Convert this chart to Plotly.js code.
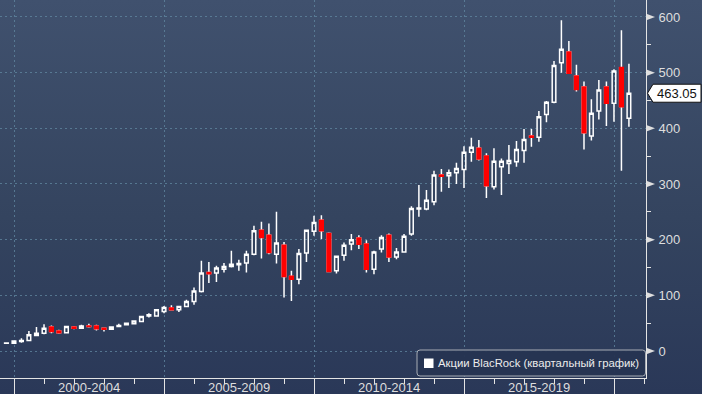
<!DOCTYPE html>
<html>
<head>
<meta charset="utf-8">
<script src="https://cdn.plot.ly/plotly-3.0.1.min.js"></script>
<style>
  html, body { margin: 0; padding: 0; }
  #chart { width: 702px; height: 394px; background: linear-gradient(to bottom, #40516e 0%, #34445f 55%, #2a3858 100%); }
</style>
</head>
<body>
<div id="chart"></div>
<script>
// ---- Data: BlackRock quarterly candles, 1999 Q3 .. 2020 Q2 ----
const firstYear = 1999;
const firstQuarter = 3;
const openVals  = [14,14,17,19,28,32,43,36,33,43,41,45,45,41,39,44,47,49,53,63,63,71,77,74,80,89,107,141,140,147,152,155,158,174,217,208,174,190,134,129,176,215,235,211,144,172,192,203,192,147,183,208,169,178,210,255,255,268,316,315,320,326,357,364,350,295,331,337,340,360,386,384,425,447,518,537,494,474,386,431,474,445,509,418];
const highVals  = [14.5,19,23,36,43,48,46,38,45,45,47,49,47,41,44,49,51,55,63,68,75,81,82,81,92,114,162,160,153,158,180,164,180,225,232,229,250,196,144,183,218,243,244,213,171,195,210,208,199,180,208,211,185,210,260,298,289,324,327,326,338,368,383,379,355,364,346,370,377,399,399,431,449,521,594,557,514,484,452,487,484,506,576,516];
const lowVals   = [14,13,15,18,27,30,32,31,32,39,40,42,37,35,38,43,46,48,52,60,62,68,73,70,79,83,105,122,124,141,150,144,141,172,166,174,157,96,90,120,160,207,201,142,139,162,181,183,141,138,177,160,165,177,207,241,253,262,286,293,300,293,340,342,275,290,280,318,331,338,367,376,411,445,500,498,466,362,378,416,404,412,324,403];
const closeVals = [14.4,18,19,29,32,41,35,33,44,41,45,44,40,39,43,46,50,54,62,65,74,78,74,80,89,108,140,139,149,152,156,157,174,216,204,177,194,134,129,175,217,231,216,143,170,190,200,192,147,178,204,169,178,206,256,257,271,316,314,320,328,357,366,345,297,341,341,342,362,380,384,421,447,513,542,499,470,392,427,469,445,503,439,463.05];

const yTickVals = [0,100,200,300,400,500,600];
const periodStarts = ['2000-01-01','2005-01-01','2010-01-01','2015-01-01','2020-01-01'];
const periodLabels = ['2000-2004','2005-2009','2010-2014','2015-2019'];
const periodMids   = ['2002-07-02','2007-07-02','2012-07-02','2017-07-02'];
const legendText = 'Акции BlacRock (квартальный график)';

// quarter-end dates for each candle
const quarterEnds = ['03-31','06-30','09-30','12-31'];
const dates = [];
for (let i = 0; i < openVals.length; i++) {
  const q = (firstQuarter - 1 + i);
  const yr = firstYear + Math.floor(q / 4);
  dates.push(yr + '-' + quarterEnds[q % 4]);
}

// decreasing subset (red bodies drawn over white wicks)
const dn = { x: [], o: [], c: [] };
for (let i = 0; i < openVals.length; i++) {
  if (closeVals[i] < openVals[i]) { dn.x.push(dates[i]); dn.o.push(openVals[i]); dn.c.push(closeVals[i]); }
}

const WHITE = '#ffffff';
const RED = '#ff0000';
const GRID = 'rgba(95,132,158,0.8)';
const AXIS = '#e4e4e4';
const LABEL = '#dedede';
const FONT = 'Liberation Sans, Arial, sans-serif';

const traces = [
  {
    type: 'candlestick', x: dates, open: openVals, high: highVals, low: lowVals, close: closeVals,
    increasing: { line: { color: WHITE, width: 1.5 }, fillcolor: 'rgba(0,0,0,0)' },
    decreasing: { line: { color: WHITE, width: 1.5 }, fillcolor: RED },
    whiskerwidth: 0, showlegend: false, hoverinfo: 'skip', name: legendText
  },
  {
    type: 'candlestick', x: dn.x, open: dn.o, high: dn.o, low: dn.c, close: dn.c,
    increasing: { line: { color: RED, width: 1.5 }, fillcolor: RED },
    decreasing: { line: { color: RED, width: 1.6 }, fillcolor: RED },
    whiskerwidth: 0, showlegend: false, hoverinfo: 'skip'
  }
];

const lastClose = closeVals[closeVals.length - 1];

const shapes = [];
// right-pointing markers at the y tick values
yTickVals.forEach(v => shapes.push({
  type: 'path', xref: 'paper', xsizemode: 'pixel', xanchor: 1,
  yref: 'y', ysizemode: 'pixel', yanchor: v,
  path: 'M 1,3 L 9,0 L 1,-3 Z', fillcolor: LABEL, line: { width: 0 }, layer: 'above'
}));
// last price tag
shapes.push({
  type: 'path', xref: 'paper', xsizemode: 'pixel', xanchor: 1,
  yref: 'y', ysizemode: 'pixel', yanchor: lastClose,
  path: 'M 1.5,0 L 7,9 L 55,9 L 55,-9 L 7,-9 Z', fillcolor: '#ffffff', line: { color: '#111111', width: 1 }, layer: 'above'
});
// legend box (rounded) and square
shapes.push({
  type: 'path', xref: 'paper', xsizemode: 'pixel', xanchor: 1,
  yref: 'paper', ysizemode: 'pixel', yanchor: 0,
  path: 'M -226,2 L -3.5,2 Q -0.5,2 -0.5,5 L -0.5,25 Q -0.5,28 -3.5,28 L -226,28 Q -229,28 -229,25 L -229,5 Q -229,2 -226,2 Z',
  fillcolor: 'rgba(38,52,82,0.95)', line: { color: '#a8adb5', width: 1 }, layer: 'above'
});
shapes.push({
  type: 'rect', xref: 'paper', xsizemode: 'pixel', xanchor: 1,
  yref: 'paper', ysizemode: 'pixel', yanchor: 0,
  x0: -222, x1: -212.5, y0: 10, y1: 19.5, fillcolor: '#ffffff', line: { width: 0 }, layer: 'above'
});

const annotations = [];
periodLabels.forEach((t, i) => annotations.push({
  xref: 'x', x: periodMids[i], yref: 'paper', y: 0, yanchor: 'middle', yshift: -9,
  text: t, showarrow: false, font: { family: FONT, size: 13, color: LABEL }
}));
annotations.push({
  xref: 'paper', x: 1, xanchor: 'left', xshift: 9,
  yref: 'y', y: lastClose, yanchor: 'middle',
  text: lastClose.toFixed(2), showarrow: false, font: { family: FONT, size: 13, color: '#111111' }
});
annotations.push({
  xref: 'paper', x: 1, xanchor: 'left', xshift: -210,
  yref: 'paper', y: 0, yanchor: 'middle', yshift: 15,
  text: legendText, showarrow: false, font: { family: FONT, size: 11.3, color: '#ececec' }
});

const layout = {
  width: 702, height: 394,
  margin: { l: 0, r: 56, t: 0, b: 16 },
  paper_bgcolor: 'rgba(0,0,0,0)', plot_bgcolor: 'rgba(0,0,0,0)',
  font: { family: FONT, color: LABEL },
  showlegend: false,
  xaxis: {
    type: 'date', range: ['1999-07-14', '2021-01-24'],
    tickmode: 'array', tickvals: periodStarts, ticktext: periodStarts.map(() => ''),
    ticks: 'outside', ticklen: 16, tickcolor: AXIS, tickwidth: 1,
    showgrid: true, gridcolor: GRID, griddash: '2px,3px', gridwidth: 1,
    showline: true, linecolor: AXIS, linewidth: 1, zeroline: false,
    minor: { tickmode: 'linear', tick0: '2000-01-01', dtick: 'M12', ticks: 'outside', ticklen: 5, tickcolor: AXIS, tickwidth: 1, showgrid: false },
    rangeslider: { visible: false }, fixedrange: true
  },
  yaxis: {
    side: 'right', range: [-48.5, 630.5],
    tickmode: 'array', tickvals: yTickVals, ticktext: yTickVals.map(String),
    ticks: 'outside', ticklen: 9, tickcolor: 'rgba(0,0,0,0)',
    tickfont: { family: FONT, size: 13, color: LABEL },
    showgrid: true, gridcolor: GRID, griddash: '2px,3px', gridwidth: 1,
    showline: true, linecolor: AXIS, linewidth: 1, zeroline: false,
    minor: { tickmode: 'linear', tick0: 0, dtick: 50, ticks: 'outside', ticklen: 4, tickcolor: AXIS, tickwidth: 1, showgrid: false },
    fixedrange: true
  },
  shapes: shapes,
  annotations: annotations
};

Plotly.newPlot('chart', traces, layout, { displayModeBar: false, staticPlot: true });
</script>
</body>
</html>
